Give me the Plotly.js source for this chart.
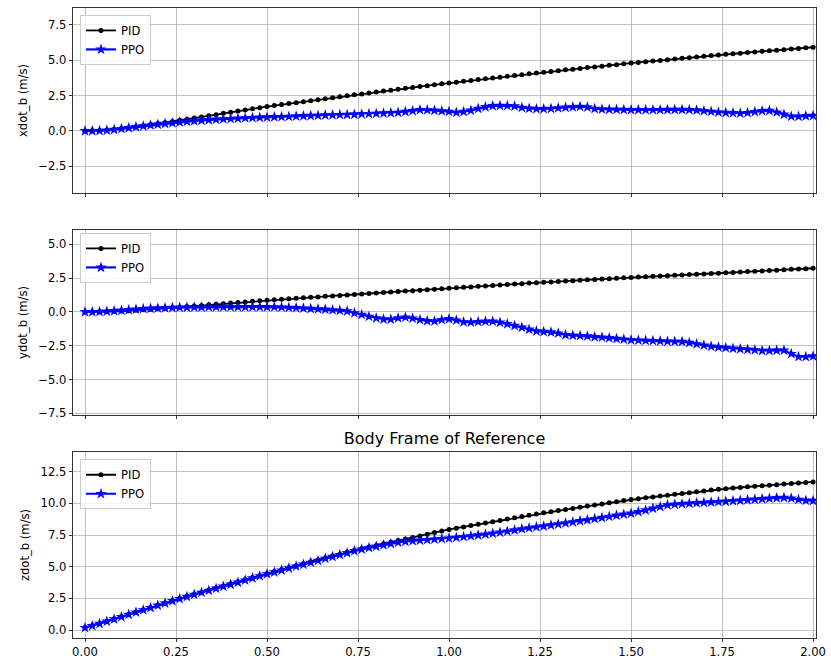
<!DOCTYPE html>
<html>
<head>
<meta charset="utf-8">
<script src="https://cdn.plot.ly/plotly-3.0.1.min.js"></script>
<style>
html, body { margin: 0; padding: 0; background: #ffffff; }
#chart { width: 831px; height: 663px; }
</style>
</head>
<body>
<div id="chart"></div>
<script>
// ---- Data ----
const time = [
  0.00, 0.02, 0.04, 0.06, 0.08, 0.10, 0.12, 0.14, 0.16, 0.18, 0.20, 0.22, 0.24,
  0.26, 0.28, 0.30, 0.32, 0.34, 0.36, 0.38, 0.40, 0.42, 0.44, 0.46, 0.48, 0.50,
  0.52, 0.54, 0.56, 0.58, 0.60, 0.62, 0.64, 0.66, 0.68, 0.70, 0.72, 0.74,
  0.76, 0.78, 0.80, 0.82, 0.84, 0.86, 0.88, 0.90, 0.92, 0.94, 0.96, 0.98, 1.00,
  1.02, 1.04, 1.06, 1.08, 1.10, 1.12, 1.14, 1.16, 1.18, 1.20, 1.22, 1.24,
  1.26, 1.28, 1.30, 1.32, 1.34, 1.36, 1.38, 1.40, 1.42, 1.44, 1.46, 1.48, 1.50,
  1.52, 1.54, 1.56, 1.58, 1.60, 1.62, 1.64, 1.66, 1.68, 1.70, 1.72, 1.74,
  1.76, 1.78, 1.80, 1.82, 1.84, 1.86, 1.88, 1.90, 1.92, 1.94, 1.96, 1.98, 2.00
];

const pidXdot = [
  0.00, 0.01, 0.03, 0.06, 0.11, 0.17, 0.23, 0.30, 0.37, 0.45, 0.53, 0.60, 0.67,
  0.75, 0.83, 0.91, 0.99, 1.07, 1.15, 1.24, 1.32, 1.40, 1.48, 1.56, 1.64, 1.72,
  1.79, 1.86, 1.93, 2.00, 2.07, 2.14, 2.21, 2.28, 2.35, 2.42, 2.49, 2.56,
  2.62, 2.69, 2.75, 2.82, 2.88, 2.94, 3.01, 3.07, 3.14, 3.20, 3.26, 3.33, 3.39,
  3.45, 3.51, 3.57, 3.63, 3.69, 3.75, 3.80, 3.86, 3.92, 3.98, 4.04, 4.10,
  4.15, 4.21, 4.26, 4.32, 4.37, 4.42, 4.48, 4.53, 4.58, 4.64, 4.69, 4.75, 4.80,
  4.85, 4.90, 4.94, 4.99, 5.04, 5.09, 5.14, 5.18, 5.23, 5.28, 5.33, 5.38,
  5.42, 5.46, 5.50, 5.55, 5.59, 5.63, 5.67, 5.71, 5.75, 5.80, 5.84, 5.88, 5.92
];
const ppoXdot = [
  0.00, 0.00, 0.01, 0.04, 0.09, 0.15, 0.21, 0.28, 0.34, 0.40, 0.46, 0.51, 0.56,
  0.61, 0.66, 0.70, 0.74, 0.78, 0.81, 0.84, 0.86, 0.88, 0.91, 0.93, 0.95, 0.97,
  0.99, 1.00, 1.02, 1.04, 1.06, 1.08, 1.09, 1.11, 1.12, 1.14, 1.15, 1.17,
  1.19, 1.21, 1.23, 1.25, 1.27, 1.30, 1.36, 1.42, 1.49, 1.48, 1.45, 1.41, 1.37,
  1.30, 1.36, 1.45, 1.58, 1.70, 1.77, 1.79, 1.78, 1.75, 1.65, 1.59, 1.56,
  1.56, 1.58, 1.62, 1.66, 1.69, 1.72, 1.68, 1.57, 1.53, 1.52, 1.51, 1.50, 1.49,
  1.49, 1.49, 1.49, 1.49, 1.50, 1.50, 1.50, 1.49, 1.47, 1.42, 1.37, 1.32,
  1.29, 1.27, 1.25, 1.28, 1.35, 1.42, 1.43, 1.32, 1.17, 1.03, 1.02, 1.06, 1.08
];

const pidYdot = [
  0.00, 0.00, 0.01, 0.02, 0.04, 0.06, 0.09, 0.12, 0.15, 0.19, 0.23, 0.27, 0.31,
  0.34, 0.39, 0.43, 0.48, 0.52, 0.57, 0.61, 0.65, 0.70, 0.74, 0.78, 0.83, 0.87,
  0.90, 0.94, 0.97, 1.01, 1.04, 1.08, 1.11, 1.15, 1.18, 1.22, 1.25, 1.29,
  1.33, 1.36, 1.40, 1.43, 1.47, 1.50, 1.54, 1.57, 1.61, 1.64, 1.68, 1.71, 1.75,
  1.78, 1.82, 1.85, 1.89, 1.92, 1.96, 1.99, 2.02, 2.06, 2.09, 2.13, 2.16,
  2.19, 2.22, 2.25, 2.28, 2.31, 2.34, 2.37, 2.40, 2.43, 2.46, 2.49, 2.52, 2.55,
  2.58, 2.60, 2.63, 2.65, 2.68, 2.71, 2.73, 2.76, 2.79, 2.81, 2.84, 2.86,
  2.89, 2.92, 2.95, 2.98, 3.00, 3.03, 3.06, 3.09, 3.12, 3.15, 3.17, 3.20, 3.23
];
const ppoYdot = [
  0.00, 0.00, 0.01, 0.04, 0.07, 0.11, 0.15, 0.19, 0.23, 0.26, 0.28, 0.30, 0.31,
  0.32, 0.33, 0.34, 0.35, 0.36, 0.37, 0.37, 0.37, 0.37, 0.37, 0.37, 0.37, 0.37,
  0.36, 0.34, 0.32, 0.30, 0.27, 0.24, 0.21, 0.18, 0.14, 0.10, 0.05, -0.08,
  -0.20, -0.34, -0.46, -0.54, -0.55, -0.45, -0.40, -0.47, -0.58, -0.67, -0.68, -0.58, -0.52,
  -0.62, -0.75, -0.77, -0.73, -0.70, -0.70, -0.78, -0.89, -1.02, -1.15, -1.30, -1.42,
  -1.46, -1.50, -1.58, -1.70, -1.74, -1.77, -1.80, -1.85, -1.88, -1.93, -1.98, -2.03, -2.08,
  -2.10, -2.12, -2.14, -2.16, -2.18, -2.19, -2.20, -2.28, -2.38, -2.47, -2.55, -2.61,
  -2.65, -2.70, -2.74, -2.78, -2.82, -2.87, -2.87, -2.85, -2.84, -3.10, -3.32, -3.32, -3.28
];

const pidZdot = [
  0.20, 0.35, 0.52, 0.70, 0.88, 1.06, 1.24, 1.42, 1.60, 1.78, 1.96, 2.14, 2.32,
  2.50, 2.66, 2.83, 2.99, 3.16, 3.32, 3.48, 3.65, 3.81, 3.98, 4.14, 4.31, 4.47,
  4.62, 4.77, 4.93, 5.08, 5.23, 5.38, 5.53, 5.69, 5.84, 5.99, 6.14, 6.29,
  6.43, 6.55, 6.68, 6.80, 6.93, 7.06, 7.18, 7.31, 7.43, 7.56, 7.69, 7.81, 7.94,
  8.04, 8.14, 8.24, 8.35, 8.45, 8.55, 8.65, 8.76, 8.86, 8.96, 9.06, 9.16,
  9.25, 9.34, 9.43, 9.51, 9.60, 9.69, 9.78, 9.87, 9.95, 10.04, 10.13, 10.22, 10.30,
  10.37, 10.44, 10.50, 10.57, 10.64, 10.71, 10.78, 10.84, 10.91, 10.98, 11.05, 11.12,
  11.16, 11.21, 11.25, 11.30, 11.34, 11.38, 11.43, 11.47, 11.52, 11.56, 11.60, 11.65, 11.69
];
const ppoZdot = [
  0.18, 0.33, 0.50, 0.68, 0.86, 1.04, 1.22, 1.40, 1.58, 1.76, 1.94, 2.12, 2.30,
  2.47, 2.63, 2.80, 2.96, 3.12, 3.28, 3.44, 3.60, 3.76, 3.93, 4.09, 4.26, 4.42,
  4.57, 4.72, 4.88, 5.03, 5.18, 5.33, 5.48, 5.64, 5.79, 5.94, 6.09, 6.24,
  6.37, 6.49, 6.60, 6.71, 6.82, 6.92, 6.99, 7.04, 7.08, 7.12, 7.16, 7.20, 7.24,
  7.30, 7.36, 7.42, 7.49, 7.56, 7.63, 7.71, 7.79, 7.88, 7.97, 8.05, 8.13,
  8.20, 8.28, 8.36, 8.44, 8.52, 8.61, 8.69, 8.78, 8.87, 8.96, 9.05, 9.13, 9.21,
  9.33, 9.46, 9.60, 9.74, 9.87, 9.92, 9.96, 9.99, 10.03, 10.06, 10.09, 10.12,
  10.15, 10.19, 10.23, 10.27, 10.31, 10.35, 10.39, 10.43, 10.45, 10.40, 10.30, 10.23, 10.21
];

const seriesNames = ["PID", "PPO"];
const yTitles = ["xdot_b (m/s)", "ydot_b (m/s)", "zdot_b (m/s)"];
const chartTitle = "Body Frame of Reference";
const xTickVals = [0.00, 0.25, 0.50, 0.75, 1.00, 1.25, 1.50, 1.75, 2.00];

// ---- Styling ----
const FONT = "DejaVu Sans, sans-serif";
const pidStyle = { color: "#000000", line: { width: 1.8 }, marker: { symbol: "circle", size: 5, color: "#000000" } };
const ppoStyle = { color: "#0000ff", line: { width: 2.2 }, marker: { symbol: "star", size: 8.5, color: "#0000ff" } };

const panels = [
  { pid: pidXdot, ppo: ppoXdot, xa: "x", ya: "y", legend: "legend" },
  { pid: pidYdot, ppo: ppoYdot, xa: "x2", ya: "y2", legend: "legend2" },
  { pid: pidZdot, ppo: ppoZdot, xa: "x3", ya: "y3", legend: "legend3" }
];

const traces = [];
panels.forEach(p => {
  traces.push({
    x: time, y: p.pid, xaxis: p.xa, yaxis: p.ya, legend: p.legend,
    name: seriesNames[0], type: "scatter", mode: "lines+markers",
    line: { color: pidStyle.color, width: pidStyle.line.width },
    marker: pidStyle.marker, showlegend: true
  });
  traces.push({
    x: time, y: p.ppo, xaxis: p.xa, yaxis: p.ya, legend: p.legend,
    name: seriesNames[1], type: "scatter", mode: "lines+markers",
    line: { color: ppoStyle.color, width: ppoStyle.line.width },
    marker: ppoStyle.marker, showlegend: true
  });
});

const tickFont = { family: FONT, size: 11.6, color: "#000000" };

function xAxis(showLabels, anchor) {
  return {
    range: [-0.033, 2.008],
    domain: [0, 1],
    anchor: anchor,
    tickvals: xTickVals,
    tickformat: ".2f",
    showticklabels: showLabels,
    ticks: "outside", ticklen: 3.5, tickwidth: 0.8, tickcolor: "#000000",
    showgrid: true, gridcolor: "#b0b0b0", gridwidth: 0.8,
    zeroline: false,
    showline: true, linecolor: "#000000", linewidth: 0.8, mirror: true,
    tickfont: tickFont
  };
}
function yAxis(range, dom, title, anchor) {
  return {
    range: range,
    domain: dom,
    anchor: anchor,
    dtick: 2.5, tick0: 0,
    tickformat: ".1f",
    ticks: "outside", ticklen: 3.5, tickwidth: 0.8, tickcolor: "#000000",
    showgrid: true, gridcolor: "#b0b0b0", gridwidth: 0.8,
    zeroline: false,
    showline: true, linecolor: "#000000", linewidth: 0.8, mirror: true,
    tickfont: tickFont,
    title: { text: title, font: { family: FONT, size: 11.6, color: "#000000" }, standoff: 8 }
  };
}

function legendAt(y) {
  return {
    x: 0.0094, y: y, xanchor: "left", yanchor: "top",
    xref: "paper", yref: "paper",
    bgcolor: "rgba(255,255,255,0.8)", bordercolor: "#cccccc", borderwidth: 1,
    font: { family: FONT, size: 11.6, color: "#000000" },
    tracegroupgap: 0, itemwidth: 30
  };
}

const layout = {
  width: 831, height: 663,
  margin: { l: 73, r: 15, t: 8, b: 25 },
  paper_bgcolor: "#ffffff", plot_bgcolor: "#ffffff",
  font: { family: FONT, color: "#000000" },
  title: {
    text: chartTitle,
    font: { family: FONT, size: 16, color: "#000000" },
    x: 0.5, xref: "paper", xanchor: "center",
    y: 0.3175, yref: "paper", yanchor: "middle"
  },
  xaxis: xAxis(false, "y"),
  xaxis2: Object.assign(xAxis(false, "y2"), { matches: "x" }),
  xaxis3: Object.assign(xAxis(true, "y3"), { matches: "x" }),
  yaxis: yAxis([-4.4, 8.7], [0.7063, 1.0], yTitles[0], "x"),
  yaxis2: yAxis([-7.63, 6.06], [0.354, 0.6476], yTitles[1], "x2"),
  yaxis3: yAxis([-0.63, 14.05], [0.0, 0.2952], yTitles[2], "x3"),
  legend: legendAt(0.989),
  legend2: legendAt(0.643),
  legend3: legendAt(0.2837),
  showlegend: true
};

Plotly.newPlot("chart", traces, layout, { displayModeBar: false, staticPlot: true });
</script>
</body>
</html>
